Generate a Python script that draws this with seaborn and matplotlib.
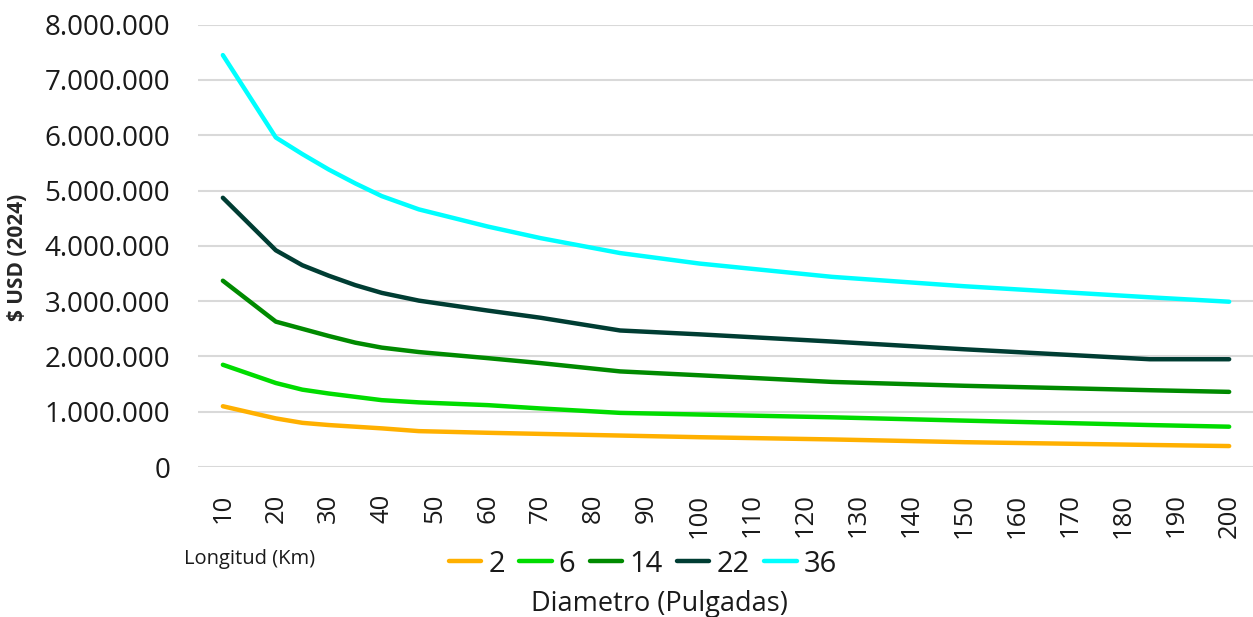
import pandas as pd
import seaborn as sns
import matplotlib.pyplot as plt
from matplotlib.ticker import FuncFormatter

# Longitud (Km)
longitud = [10, 20, 25, 30, 35, 40, 47, 60, 70, 85, 100, 125, 150, 185, 200]

# costo en USD (2024), en millones, por diametro (pulgadas)
d2 = [1.10, 0.88, 0.80, 0.76, 0.73, 0.70, 0.65, 0.62, 0.60, 0.57, 0.54, 0.50, 0.45, 0.40, 0.38]
d6 = [1.85, 1.52, 1.40, 1.33, 1.27, 1.21, 1.17, 1.12, 1.06, 0.98, 0.95, 0.90, 0.84, 0.76, 0.73]
d14 = [3.37, 2.63, 2.50, 2.37, 2.25, 2.16, 2.08, 1.97, 1.88, 1.73, 1.66, 1.54, 1.47, 1.39, 1.36]
d22 = [4.87, 3.92, 3.65, 3.46, 3.29, 3.15, 3.01, 2.83, 2.70, 2.47, 2.40, 2.27, 2.13, 1.95, 1.95]
d36 = [7.45, 5.96, 5.66, 5.38, 5.13, 4.90, 4.66, 4.35, 4.14, 3.87, 3.68, 3.44, 3.27, 3.07, 2.99]

diametros = ['2', '6', '14', '22', '36']
colores = ['#FFB000', '#00DC00', '#008A00', '#003D33', '#00FFFF']

series = {'2': d2, '6': d6, '14': d14, '22': d22, '36': d36}
rows = []
for d in diametros:
    for x, v in zip(longitud, series[d]):
        rows.append({'Longitud': x, 'Costo': v * 1e6, 'Diametro': d})
df = pd.DataFrame(rows)

sns.set_style('white')
plt.rcParams['font.family'] = ['Open Sans', 'DejaVu Sans']

fig = plt.figure(figsize=(12.53, 6.17), dpi=100)
ax = fig.add_axes([0.158, 0.243, 0.842, 0.717])

sns.lineplot(data=df, x='Longitud', y='Costo', hue='Diametro', hue_order=diametros,
             palette=dict(zip(diametros, colores)), linewidth=3.2, ax=ax,
             solid_capstyle='round', solid_joinstyle='round')

ax.set_xlim(5.3, 204.5)
ax.set_ylim(0, 8e6)
ax.set_xticks(range(10, 201, 10))
ax.set_yticks(range(0, 8000001, 1000000))
ax.yaxis.set_major_formatter(FuncFormatter(lambda v, p: f'{int(v):,}'.replace(',', '.')))
ax.tick_params(axis='x', labelsize=18.5, rotation=90, length=0, pad=19)
ax.tick_params(axis='y', labelsize=20, length=0, pad=20)
for lbl in ax.get_yticklabels() + ax.get_xticklabels():
    lbl.set_color('#1a1a1a')
ax.grid(axis='y', color='#D9D9D9', linewidth=1.5)
ax.set_axisbelow(True)
for s in ax.spines.values():
    s.set_visible(False)
ax.set_xlabel('')
ax.set_ylabel('')

fig.text(18 / 1253, 1 - 257 / 617, '$ USD (2024)', rotation=90, fontsize=15,
         fontweight='bold', ha='center', va='center')
fig.text(184 / 1253, 1 - 559 / 617, 'Longitud (Km)', fontsize=14.5, ha='left', va='center',
         color='#1a1a1a')
fig.text(659 / 1253, 1 - 604 / 617, 'Diametro (Pulgadas)', fontsize=19.5, ha='center',
         va='center', color='#1a1a1a')

handles, labels = ax.get_legend_handles_labels()
leg = ax.legend(handles, labels, ncol=5, frameon=False, fontsize=21, handlelength=1.1,
                handletextpad=0.25, columnspacing=0.5, loc='center',
                bbox_to_anchor=(643 / 1253, 1 - 564 / 617), bbox_transform=fig.transFigure,
                borderpad=0)
for t in leg.get_texts():
    t.set_color('#1a1a1a')

fig.savefig('out.png', dpi=100)
